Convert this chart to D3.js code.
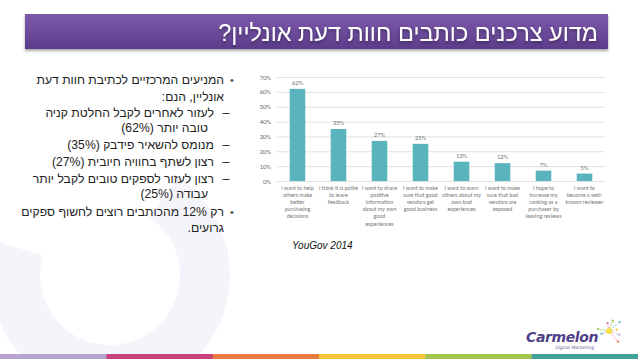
<!DOCTYPE html>
<html>
<head>
<meta charset="utf-8">
<title>YouGov reviews</title>
<script src="https://cdn.jsdelivr.net/npm/d3@7"></script>
<style>
  body { margin: 0; background: #fff; }
  svg { display: block; }
  .heb { font-family: Arial, "Liberation Sans", "DejaVu Sans", sans-serif; direction: rtl; unicode-bidi: embed; }
  .tick text { font-family: Calibri, Carlito, "Liberation Sans", Arial, sans-serif; }
</style>
</head>
<body>
<script>
// chart data
const categories = [
  ["I want to help", "others make", "better", "purchasing", "decisions"],
  ["I think it is polite", "to leave", "feedback"],
  ["I want to share", "positive", "information", "about my own", "good", "experiences"],
  ["I want to make", "sure that good", "vendors get", "good business"],
  ["I want to warn", "others about my", "own bad", "experiences"],
  ["I want to make", "sure that bad", "vendors are", "exposed"],
  ["I hope to", "increase my", "ranking as a", "purchaser by", "leaving reviews"],
  ["I want to", "become a well-", "known reviewer"]
];
const values = [62, 35, 27, 25, 13, 12, 7, 5];
const yTicks = [0, 10, 20, 30, 40, 50, 60, 70];

const title = "מדוע צרכנים כותבים חוות דעת אונליין?";
const bullets = [
  { level: 0, lines: ["המניעים המרכזיים לכתיבת חוות דעת", "אונליין, הנם:"] },
  { level: 1, lines: ["לעזור לאחרים לקבל החלטת קניה", "טובה יותר (62%)"] },
  { level: 1, lines: ["מנומס להשאיר פידבק (35%)"] },
  { level: 1, lines: ["רצון לשתף בחוויה חיובית (27%)"] },
  { level: 1, lines: ["רצון לעזור לספקים טובים לקבל יותר", "עבודה (25%)"] },
  { level: 0, lines: ["רק 12% מהכותבים רוצים לחשוף ספקים", "גרועים."] }
];
const source = "YouGov 2014";
const stripeColors = ["#b7a3cf", "#c8437c", "#ea7a42", "#f4c63a", "#a2c54d", "#43a39c"];

const W = 638, H = 359;
const svg = d3.select("body").append("svg").attr("width", W).attr("height", H);
const defs = svg.append("defs");

// faint background watermark
svg.append("path")
  .attr("d", d3.arc()({ innerRadius: 70, outerRadius: 120, startAngle: 0.6, endAngle: 5.0 }))
  .attr("transform", "translate(110,275)")
  .attr("fill", "#dfe3f0").attr("opacity", 0.35);

// title bar
const grad = defs.append("linearGradient").attr("id", "titleGrad")
  .attr("x1", 0).attr("y1", 0).attr("x2", 0).attr("y2", 1);
grad.append("stop").attr("offset", "0%").attr("stop-color", "#7d5aab");
grad.append("stop").attr("offset", "100%").attr("stop-color", "#5c3c8a");
const shadow = defs.append("filter").attr("id", "shadow")
  .attr("x", "-5%").attr("y", "-20%").attr("width", "110%").attr("height", "160%");
shadow.append("feDropShadow").attr("dx", 0).attr("dy", 2).attr("stdDeviation", 1.5)
  .attr("flood-color", "#000").attr("flood-opacity", 0.35);

svg.append("rect")
  .attr("x", 25).attr("y", 14).attr("width", 583).attr("height", 35)
  .attr("fill", "url(#titleGrad)").attr("filter", "url(#shadow)");
svg.append("text").attr("class", "heb")
  .attr("x", 598).attr("y", 40.5)
  .attr("text-anchor", "start")
  .attr("font-family", "'DejaVu Sans Condensed', 'DejaVu Sans', sans-serif")
  .attr("font-stretch", "condensed")
  .attr("fill", "#fff").attr("font-size", 23.5)
  .attr("filter", "url(#shadow)")
  .text(title);

// Hebrew bullet list
const lineY = [84, 101, 117, 132, 149, 166, 183, 198, 216, 232];
let li = 0;
const listG = svg.append("g").attr("fill", "#222").attr("font-size", 12.2);
bullets.forEach(b => {
  const textX = b.level === 0 ? 224 : 214;
  listG.append("text")
    .attr("x", b.level === 0 ? 232 : 226)
    .attr("y", lineY[li])
    .attr("text-anchor", "middle")
    .attr("font-family", "Arial, 'Liberation Sans', sans-serif")
    .attr("font-size", b.level === 0 ? 11 : 12.5)
    .attr("fill", b.level === 0 ? "#555" : "#222")
    .text(b.level === 0 ? "•" : "–");
  b.lines.forEach((l, j) => {
    listG.append("text").attr("class", "heb")
      .attr("x", textX - (b.level === 1 && j > 0 ? 6 : 0)).attr("y", lineY[li])
      .attr("text-anchor", "start")
      .text(l);
    li++;
  });
});

// bar chart
const plotLeft = 277, plotRight = 605, plotTop = 77, plotBottom = 181;
const x = d3.scaleBand().domain(d3.range(values.length))
  .range([plotLeft, plotRight]).paddingInner(0.62).paddingOuter(0.31);
const y = d3.scaleLinear().domain([0, 70]).range([plotBottom, plotTop]);

const yAxis = svg.append("g")
  .attr("transform", `translate(${plotLeft},0)`)
  .call(d3.axisLeft(y).tickValues(yTicks).tickFormat(d => d + "%")
    .tickSize(-(plotRight - plotLeft)).tickPadding(6));
yAxis.select(".domain").remove();
yAxis.selectAll(".tick line").attr("stroke", "#d9d9d9").attr("stroke-width", 0.8);
yAxis.selectAll(".tick text").attr("fill", "#666").attr("font-size", 6.5);

svg.append("g").selectAll("rect").data(values).join("rect")
  .attr("x", (d, i) => x(i)).attr("y", d => y(d))
  .attr("width", x.bandwidth()).attr("height", d => y(0) - y(d))
  .attr("fill", "#5ab4bd");

svg.append("g").selectAll("text").data(values).join("text")
  .attr("x", (d, i) => x(i) + x.bandwidth() / 2).attr("y", d => y(d) - 4)
  .attr("text-anchor", "middle").attr("fill", "#777")
  .attr("font-family", "Calibri, Carlito, 'Liberation Sans', sans-serif")
  .attr("font-size", 6.5)
  .text(d => d + "%");

const catG = svg.append("g")
  .attr("font-family", "Calibri, Carlito, 'Liberation Sans', sans-serif")
  .attr("font-size", 5.8).attr("fill", "#777").attr("text-anchor", "middle");
categories.forEach((lines, i) => {
  const t = catG.append("text").attr("x", x(i) + x.bandwidth() / 2).attr("y", 190);
  lines.forEach((l, j) => {
    t.append("tspan").attr("x", x(i) + x.bandwidth() / 2).attr("dy", j === 0 ? 0 : 7.1).text(l);
  });
});

svg.append("text")
  .attr("x", 292).attr("y", 249)
  .attr("font-family", "Arial, 'Liberation Sans', sans-serif")
  .attr("font-style", "italic").attr("font-size", 10).attr("fill", "#111")
  .text(source);

// logo
const logo = svg.append("g");
logo.append("text").attr("x", 598).attr("y", 342).attr("text-anchor", "end")
  .attr("font-family", "'DejaVu Sans', Verdana, sans-serif").attr("font-weight", "bold")
  .attr("font-style", "italic").attr("font-size", 14).attr("fill", "#4f4189")
  .attr("letter-spacing", -0.4)
  .text("Carmelon");
logo.append("text").attr("x", 594).attr("y", 349).attr("text-anchor", "end")
  .attr("font-family", "'DejaVu Sans', sans-serif").attr("font-style", "italic")
  .attr("font-size", 4.5).attr("fill", "#6a5f9a")
  .text("Digital Marketing");
const rayColors = ["#e36aa0", "#9ac54a", "#5bb5bd", "#f3c332", "#b39ad0", "#ea7a42", "#5bb5bd", "#9ac54a"];
const rayAngles = [-100, -70, -40, -10, 20, 50, 160, 190];
rayAngles.forEach((a, i) => {
  const r = (a * Math.PI) / 180, len = 8 + (i % 3) * 3;
  logo.append("line")
    .attr("x1", 609).attr("y1", 331)
    .attr("x2", 609 + Math.cos(r) * len).attr("y2", 331 + Math.sin(r) * len)
    .attr("stroke", rayColors[i]).attr("stroke-width", 0.8).attr("stroke-dasharray", "1.5,1");
  logo.append("circle")
    .attr("cx", 609 + Math.cos(r) * len).attr("cy", 331 + Math.sin(r) * len)
    .attr("r", 1.1).attr("fill", rayColors[i]);
});
logo.append("circle").attr("cx", 609).attr("cy", 331).attr("r", 3).attr("fill", "#f6e04a");

// bottom stripe
const sx = d3.scaleBand().domain(d3.range(stripeColors.length)).range([0, W]);
svg.append("g").selectAll("rect").data(stripeColors).join("rect")
  .attr("x", (d, i) => sx(i)).attr("y", 354)
  .attr("width", sx.bandwidth() + 0.5).attr("height", 5)
  .attr("fill", d => d);
</script>
</body>
</html>
